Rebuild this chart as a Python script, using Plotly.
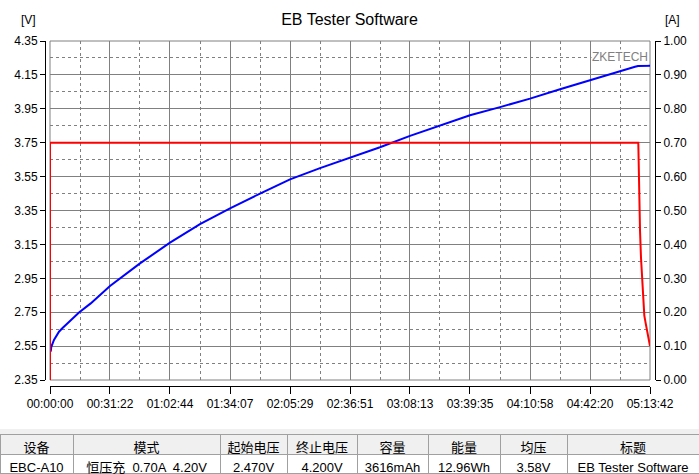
import plotly.graph_objects as go

W, H = 699, 474

# ---- data ----
volt_time_s = [22, 41, 125, 282, 386, 596, 910, 1277, 1747, 1882, 2823, 3764, 4705, 5647,
               6588, 7529, 8470, 9411, 10352, 11293, 12234, 13175, 14117, 15058, 15999,
               16940, 17881, 18352, 18446, 18822]
volt_v = [2.517, 2.546, 2.586, 2.635, 2.655, 2.694, 2.748, 2.802, 2.881, 2.905, 3.038, 3.160,
          3.270, 3.363, 3.450, 3.534, 3.600, 3.661, 3.723, 3.790, 3.850, 3.912, 3.960, 4.010,
          4.065, 4.120, 4.173, 4.198, 4.203, 4.204]

curr_time_s = [0, 0, 18455, 18460, 18487, 18509, 18540, 18581, 18612, 18644, 18687, 18728,
               18769, 18822]
curr_a = [0.0, 0.70, 0.70, 0.66, 0.54, 0.44, 0.36, 0.30, 0.236, 0.19, 0.167, 0.147, 0.123, 0.10]

x_tickvals = [0, 1882, 3764, 5647, 7529, 9411, 11293, 13175, 15058, 16940, 18822]
x_ticktext = ["00:00:00", "00:31:22", "01:02:44", "01:34:07", "02:05:29", "02:36:51",
              "03:08:13", "03:39:35", "04:10:58", "04:42:20", "05:13:42"]
x_minorvals = [941, 2823, 4706, 6588, 8470, 10352, 12234, 14117, 15999, 17881]

v_tickvals = [2.35, 2.55, 2.75, 2.95, 3.15, 3.35, 3.55, 3.75, 3.95, 4.15, 4.35]
v_minorvals = [2.45, 2.65, 2.85, 3.05, 3.25, 3.45, 3.65, 3.85, 4.05, 4.25]
a_tickvals = [0.0, 0.1, 0.2, 0.3, 0.4, 0.5, 0.6, 0.7, 0.8, 0.9, 1.0]

table_header = ["设备", "模式", "起始电压", "终止电压", "容量", "能量", "均压", "标题"]
table_row = ["EBC-A10", "恒压充  0.70A  4.20V", "2.470V", "4.200V", "3616mAh", "12.96Wh",
             "3.58V", "EB Tester Software"]
table_colwidths = [73, 147, 67, 70, 71, 72, 67, 132]

# ---- layout helpers (pixel -> paper) ----
def px(x):
    return x / W

def py(y):
    return 1 - y / H

FONT = "Liberation Sans, Arial, Noto Sans CJK SC, sans-serif"
GRID = "#808080"

fig = go.Figure()

fig.add_trace(go.Scatter(x=volt_time_s, y=volt_v, mode="lines",
                         line=dict(color="#0000ff", width=2), yaxis="y", hoverinfo="skip"))
fig.add_trace(go.Scatter(x=curr_time_s, y=curr_a, mode="lines",
                         line=dict(color="#ff0000", width=2), yaxis="y2", hoverinfo="skip"))

fig.add_trace(go.Table(
    domain=dict(x=[0, 1], y=[0, (H - 434) / H]),
    columnwidth=table_colwidths,
    header=dict(values=table_header, fill_color="#f0f0f0", line_color="#a0a0a0",
                height=20, align="center", font=dict(family=FONT, size=13, color="black")),
    cells=dict(values=[[v] for v in table_row], fill_color="white", line_color="#a0a0a0",
               height=19, align="center", font=dict(family=FONT, size=13, color="black")),
))

fig.update_layout(
    width=W, height=H,
    margin=dict(l=0, r=0, t=0, b=0, autoexpand=False),
    paper_bgcolor="white", plot_bgcolor="white",
    showlegend=False,
    font=dict(family=FONT, size=12, color="black"),
    title=dict(text="EB Tester Software", x=0.5, xanchor="center", y=py(19), yanchor="middle",
               yref="container", font=dict(size=16, color="black")),
    xaxis=dict(
        domain=[px(50), px(650)], range=[0, 18822], anchor="free", position=(H - 386) / H,
        tickmode="array", tickvals=x_tickvals, ticktext=x_ticktext,
        ticks="outside", ticklen=7, tickcolor="black", tickfont=dict(size=12),
        showline=True, linecolor="black", linewidth=1, zeroline=False,
        showgrid=True, gridcolor=GRID, gridwidth=1,
        minor=dict(tickmode="array", tickvals=x_minorvals, showgrid=True, gridcolor=GRID,
                   griddash="3px,3px", gridwidth=1, ticks=""),
    ),
    yaxis=dict(
        domain=[(H - 380) / H, (H - 41) / H], range=[2.35, 4.35], anchor="free",
        position=px(45), side="left",
        tickmode="array", tickvals=v_tickvals, ticktext=[f"{v:.2f}" for v in v_tickvals],
        ticks="outside", ticklen=5, tickcolor="black", tickfont=dict(size=12),
        showline=True, linecolor="black", linewidth=1, zeroline=False,
        showgrid=True, gridcolor=GRID, gridwidth=1,
        minor=dict(tickmode="array", tickvals=v_minorvals, showgrid=True, gridcolor=GRID,
                   griddash="3px,3px", gridwidth=1, ticks=""),
    ),
    yaxis2=dict(
        overlaying="y", range=[0, 1], anchor="free", position=px(655), side="right",
        tickmode="array", tickvals=a_tickvals, ticktext=[f"{v:.2f}" for v in a_tickvals],
        ticks="outside", ticklen=5, tickcolor="black", tickfont=dict(size=12),
        showline=True, linecolor="black", linewidth=1, zeroline=False, showgrid=False,
    ),
    shapes=[
        dict(type="rect", xref="x domain", yref="y domain", x0=0, x1=1, y0=0, y1=1,
             line=dict(color=GRID, width=1), layer="below"),
        dict(type="rect", xref="paper", yref="paper", x0=0, x1=1, y0=0, y1=py(429),
             fillcolor="#f0f0f0", line=dict(width=0), layer="below"),
    ],
    annotations=[
        dict(text="[V]", xref="paper", yref="paper", x=px(28), y=py(20), showarrow=False,
             xanchor="center", yanchor="middle", font=dict(size=12, color="black")),
        dict(text="[A]", xref="paper", yref="paper", x=px(672), y=py(20), showarrow=False,
             xanchor="center", yanchor="middle", font=dict(size=12, color="black")),
        dict(text="ZKETECH", xref="paper", yref="paper", x=px(620), y=py(57), showarrow=False,
             xanchor="center", yanchor="middle",
             bgcolor="white", borderpad=0, font=dict(size=12, color="#808080")),
    ],
)

fig.write_html(
    "out.html",
    config={"displayModeBar": False},
    post_script="document.body.style.margin='0px';document.body.style.overflow='hidden';",
)
